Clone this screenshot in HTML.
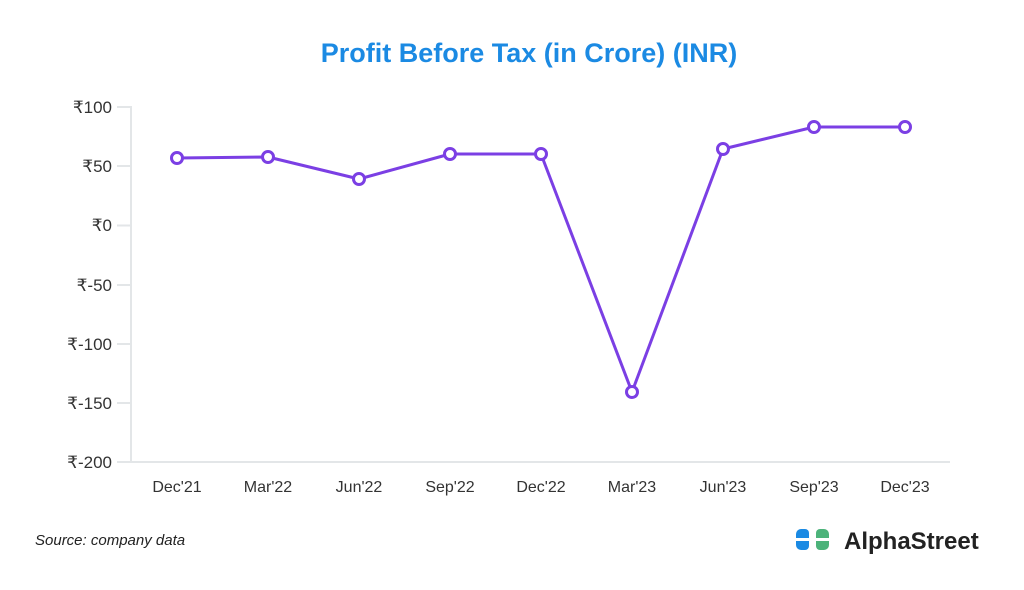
<!DOCTYPE html>
<html><head><meta charset="utf-8"><style>
body{margin:0;background:#fff;width:1024px;height:585px;overflow:hidden;font-family:"Liberation Sans",sans-serif}
</style></head><body>
<svg width="1024" height="585" viewBox="0 0 1024 585" xmlns="http://www.w3.org/2000/svg">
<text x="529" y="62" text-anchor="middle" font-size="27" font-weight="bold" fill="#1b8ae3" font-family="Liberation Sans, sans-serif">Profit Before Tax (in Crore) (INR)</text>
<g stroke="#e3e6e8" stroke-width="2" fill="none">
<line x1="131" y1="106" x2="131" y2="462"/>
<line x1="131" y1="462" x2="950" y2="462"/>
<line x1="117" y1="107" x2="131" y2="107"/>
<line x1="117" y1="166" x2="131" y2="166"/>
<line x1="117" y1="225.5" x2="131" y2="225.5"/>
<line x1="117" y1="285" x2="131" y2="285"/>
<line x1="117" y1="344" x2="131" y2="344"/>
<line x1="117" y1="403" x2="131" y2="403"/>
<line x1="117" y1="462" x2="131" y2="462"/>
</g>
<g font-size="17" fill="#333" text-anchor="end" font-family="Liberation Sans, DejaVu Sans, sans-serif">
<text x="112" y="113">₹100</text><text x="112" y="172">₹50</text><text x="112" y="231">₹0</text>
<text x="112" y="291">₹-50</text><text x="112" y="350">₹-100</text><text x="112" y="409">₹-150</text><text x="112" y="468">₹-200</text>
</g>
<g font-size="16" fill="#333" text-anchor="middle">
<text x="177" y="492">Dec'21</text><text x="268" y="492">Mar'22</text><text x="359" y="492">Jun'22</text>
<text x="450" y="492">Sep'22</text><text x="541" y="492">Dec'22</text><text x="632" y="492">Mar'23</text>
<text x="723" y="492">Jun'23</text><text x="814" y="492">Sep'23</text><text x="905" y="492">Dec'23</text>
</g>
<polyline fill="none" stroke="#7b3fe4" stroke-width="3" stroke-linejoin="round" points="177,158 268,157 359,179 450,154 541,154 632,392 723,149 814,127 905,127"/>
<g fill="#fff" stroke="#7b3fe4" stroke-width="3">
<circle cx="177" cy="158" r="5.5"/><circle cx="268" cy="157" r="5.5"/><circle cx="359" cy="179" r="5.5"/>
<circle cx="450" cy="154" r="5.5"/><circle cx="541" cy="154" r="5.5"/><circle cx="632" cy="392" r="5.5"/>
<circle cx="723" cy="149" r="5.5"/><circle cx="814" cy="127" r="5.5"/><circle cx="905" cy="127" r="5.5"/>
</g>
<text x="35" y="545" font-size="15" font-style="italic" fill="#222">Source: company data</text>
<g>
<path d="M796,538 v-4 a5,5 0 0 1 5,-5 h4 a4,4 0 0 1 4,4 v5 z" fill="#1b8ae3"/>
<path d="M796,541 h13 v5 a4,4 0 0 1 -4,4 h-4 a5,5 0 0 1 -5,-5 z" fill="#1b8ae3"/>
<path d="M829,538 v-4 a5,5 0 0 0 -5,-5 h-4 a4,4 0 0 0 -4,4 v5 z" fill="#4cb37a"/>
<path d="M829,541 h-13 v5 a4,4 0 0 0 4,4 h4 a5,5 0 0 0 5,-5 z" fill="#4cb37a"/>
</g>
<text x="844" y="549" font-size="24" font-weight="bold" fill="#222">AlphaStreet</text>
</svg>
</body></html>
